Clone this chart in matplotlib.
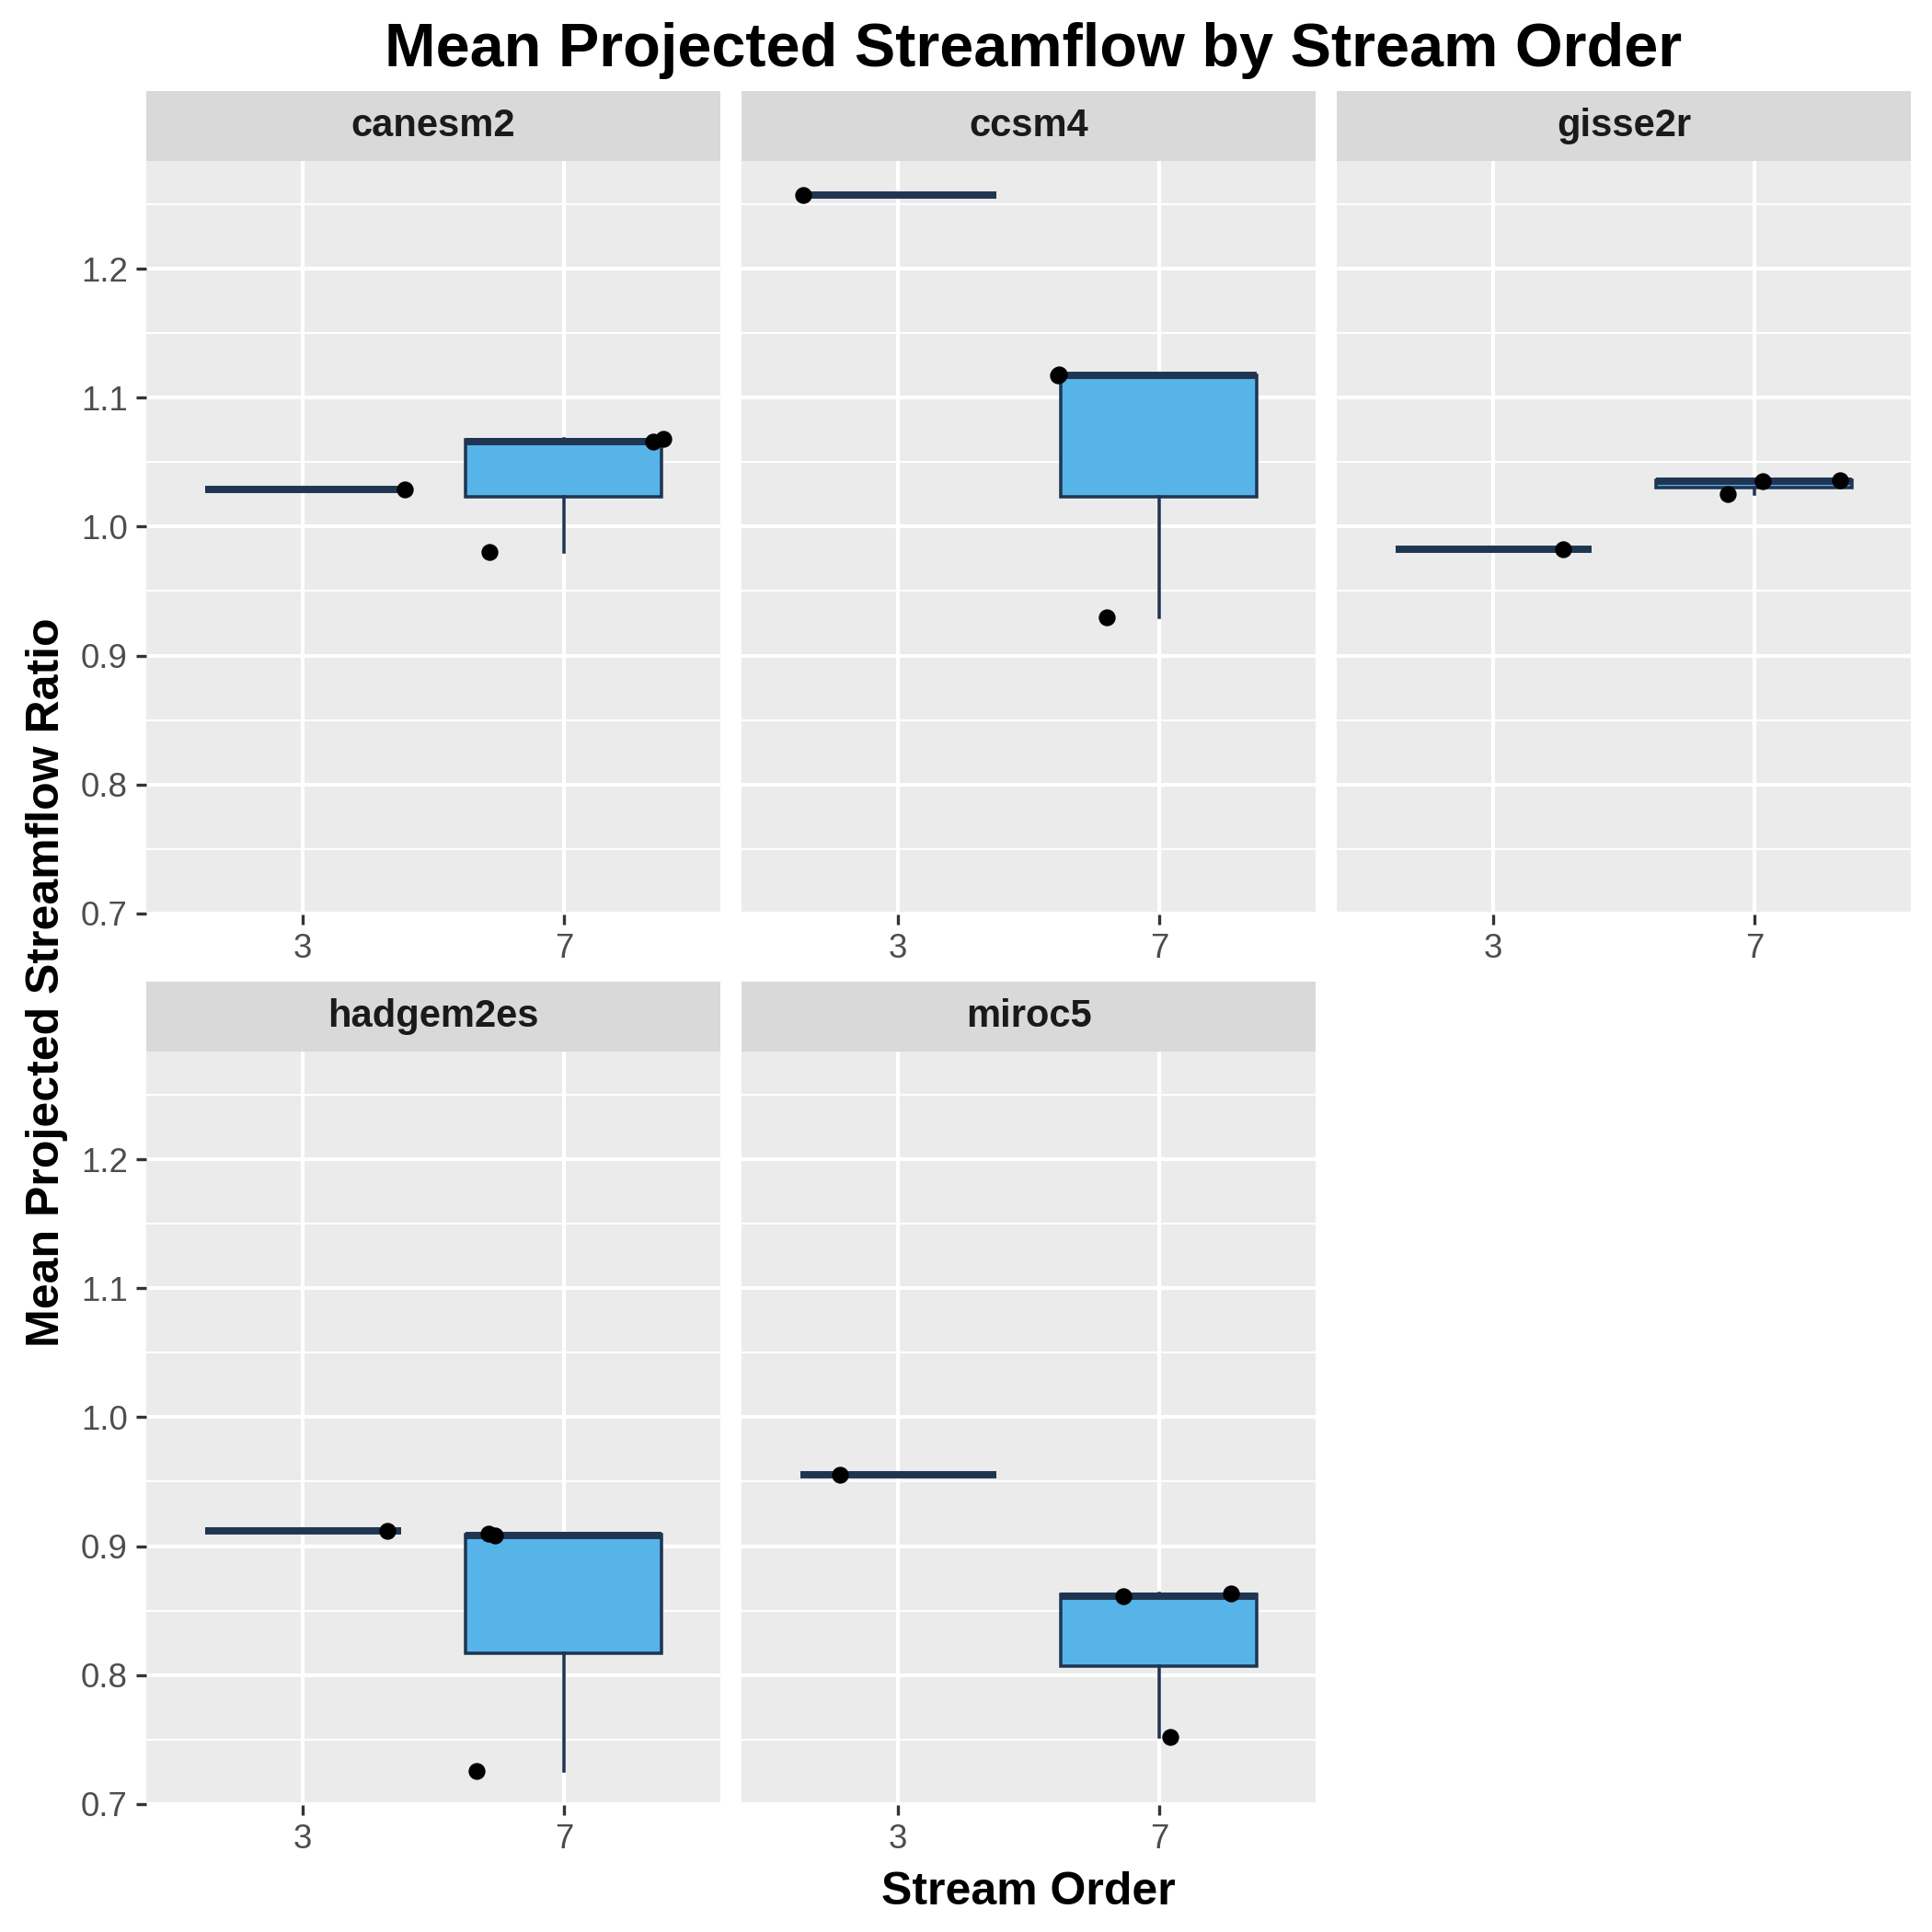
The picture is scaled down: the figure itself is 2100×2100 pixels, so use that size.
import numpy as np
import matplotlib
matplotlib.use("Agg")
import matplotlib.pyplot as plt
from matplotlib.ticker import MultipleLocator, FixedLocator

# ---------------- data ----------------
models = ["canesm2", "ccsm4", "gisse2r", "hadgem2es", "miroc5"]
stream_orders = ["3", "7"]
y_ticks = [0.7, 0.8, 0.9, 1.0, 1.1, 1.2]
y_tick_labels = ["0.7", "0.8", "0.9", "1.0", "1.1", "1.2"]

# one observation per model for stream order 3
order3_values = [1.0287, 1.257, 0.9826, 0.912, 0.955]
# three observations per model for stream order 7
order7_values = [
    [0.980, 1.0662, 1.0679],
    [0.9295, 1.117, 1.118],
    [1.0255, 1.0355, 1.0358],
    [0.7257, 0.9083, 0.9100],
    [0.7517, 0.8614, 0.8636],
]
# horizontal jitter of the points (fraction of category spacing)
order3_jitter = [0.389, -0.364, 0.266, 0.324, -0.221]
order7_jitter = [
    [-0.285, 0.342, 0.383],
    [-0.2015, -0.388, -0.384],
    [-0.1025, 0.0325, 0.3275],
    [-0.336, -0.263, -0.29],
    [0.044, -0.136, 0.274],
]

# ---------------- style ----------------
plt.rcParams["font.family"] = ["Liberation Sans", "DejaVu Sans"]
FILL = "#56B4E9"
EDGE = "#1F3552"
PANEL_BG = "#EBEBEB"
STRIP_BG = "#D9D9D9"
TICK_TXT = "#4D4D4D"
TICK_COL = "#333333"

W = H = 2100
fig = plt.figure(figsize=(7, 7), dpi=300)

col_left = [159, 806, 1453]
col_w = 624
row_strip_top = [99, 1067]
strip_h = 76
panel_h = 819

all_vals = order3_values + [v for vs in order7_values for v in vs]
vmin, vmax = min(all_vals), max(all_vals)
rng = vmax - vmin
ylim = (vmin - 0.05 * rng, vmax + 0.05 * rng)

def fig_rect(x, y_top, w, h):
    return [x / W, 1 - (y_top + h) / H, w / W, h / H]

for i, model in enumerate(models):
    r, c = divmod(i, 3)
    x0 = col_left[c]
    st = row_strip_top[r]
    # strip
    sax = fig.add_axes(fig_rect(x0, st, col_w, strip_h))
    sax.set_facecolor(STRIP_BG)
    sax.set_xticks([]); sax.set_yticks([])
    for s in sax.spines.values():
        s.set_visible(False)
    sax.text(0.5, 0.5, model, ha="center", va="center", fontsize=10,
             fontweight="bold", color="#1A1A1A", transform=sax.transAxes)

    ax = fig.add_axes(fig_rect(x0, st + strip_h, col_w, panel_h))
    ax.set_facecolor(PANEL_BG)
    for s in ax.spines.values():
        s.set_visible(False)
    ax.set_axisbelow(True)

    data = [[order3_values[i]], order7_values[i]]
    ax.boxplot(
        data, positions=[1, 2], widths=0.75, whis=1.5,
        showcaps=False, showfliers=False, patch_artist=True,
        boxprops=dict(facecolor=FILL, edgecolor=EDGE, linewidth=0.85),
        medianprops=dict(color=EDGE, linewidth=1.9, solid_capstyle="butt"),
        whiskerprops=dict(color=EDGE, linewidth=0.85),
        zorder=2,
    )

    xs = [1 + order3_jitter[i]] + [2 + j for j in order7_jitter[i]]
    ys = [order3_values[i]] + list(order7_values[i])
    ax.plot(xs, ys, "o", color="black", markersize=3.4, linestyle="none", zorder=3)

    ax.set_xlim(0.4, 2.6)
    ax.set_ylim(*ylim)
    ax.xaxis.set_major_locator(FixedLocator([1, 2]))
    ax.set_xticklabels(stream_orders)
    ax.yaxis.set_major_locator(FixedLocator(y_ticks))
    ax.yaxis.set_minor_locator(MultipleLocator(0.05))
    ax.set_yticklabels(y_tick_labels)
    ax.grid(which="major", color="white", linewidth=1.0)
    ax.grid(which="minor", axis="y", color="white", linewidth=0.5)
    ax.tick_params(which="major", length=2.64, width=0.8, color=TICK_COL,
                   labelsize=8.8, labelcolor=TICK_TXT, pad=2.2)
    ax.tick_params(which="minor", length=0)
    if c > 0:
        ax.tick_params(axis="y", which="both", left=False, labelleft=False)

fig.text(1123 / W, 1 - 72 / H, "Mean Projected Streamflow by Stream Order",
         ha="center", va="baseline", fontsize=16, fontweight="bold", color="black")
fig.text(1118 / W, 1 - 2070 / H, "Stream Order", ha="center", va="baseline",
         fontsize=12, fontweight="bold", color="black")
fig.text(51.5 / W, 1 - 1068 / H, "Mean Projected Streamflow Ratio", ha="center",
         va="center", rotation=90, fontsize=12, fontweight="bold", color="black")

fig.savefig("out.png", dpi=300, facecolor="white")
